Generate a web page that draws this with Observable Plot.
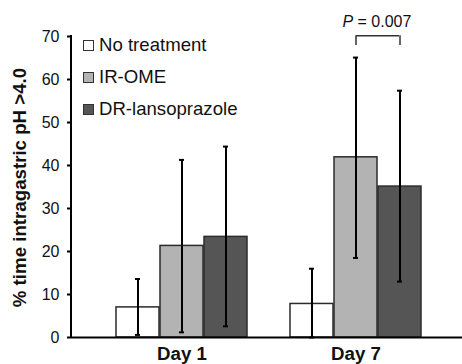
<!DOCTYPE html>
<html><head><meta charset="utf-8">
<script src="https://cdn.jsdelivr.net/npm/d3@7"></script>
<script src="https://cdn.jsdelivr.net/npm/@observablehq/plot@0.6"></script>
<style>
body{margin:0;background:#fff;font-family:"Liberation Sans",Arial,sans-serif;}
#wrap{position:relative;width:462px;height:364px;}
#legend{position:absolute;left:83px;top:29px;}
.row{display:flex;align-items:center;height:32px;font-size:18.6px;color:#111;}
.sw{width:9px;height:9px;border:1px solid #333;margin-right:5px;}
</style></head><body><div id="wrap"><div id="legend"></div></div>
<script>
const days = ["Day 1", "Day 7"];
const treatments = ["No treatment", "IR-OME", "DR-lansoprazole"];
// series values per treatment, indexed by day
const noTreatment = [7.0, 7.8];
const irOme = [21.3, 41.9];
const drLansoprazole = [23.4, 35.1];
// error bar bounds
const noTreatmentLow = [0.6, 0];
const noTreatmentHigh = [13.6, 16.0];
const irOmeLow = [1.2, 18.5];
const irOmeHigh = [41.3, 65.1];
const drLansoprazoleLow = [2.6, 13.0];
const drLansoprazoleHigh = [44.4, 57.4];
const yTicks = [0, 10, 20, 30, 40, 50, 60, 70];
const pText = "P = 0.007";

const colors = ["#ffffff", "#b3b3b3", "#555555"];
const means = [noTreatment, irOme, drLansoprazole];
const lows = [noTreatmentLow, irOmeLow, drLansoprazoleLow];
const highs = [noTreatmentHigh, irOmeHigh, drLansoprazoleHigh];

const rows = [];
treatments.forEach((t, ti) => days.forEach((d, di) => rows.push({
  day: d, treatment: t, mean: means[ti][di], lo: lows[ti][di], hi: highs[ti][di]
})));

const barW = 44, capHalf = 3;
const marks = [];
treatments.forEach((t, i) => {
  const d = rows.filter(r => r.treatment === t);
  marks.push(Plot.barY(d, {x: "day", y: "mean", fill: colors[i], stroke: "#2b2b2b", strokeWidth: 1.5,
    insetLeft: i * barW, insetRight: (2 - i) * barW}));
});
treatments.forEach((t, i) => {
  const d = rows.filter(r => r.treatment === t);
  marks.push(Plot.ruleX(d, {x: "day", y1: "lo", y2: "hi", dx: (i - 1) * barW, stroke: "#000", strokeWidth: 2}));
  for (const key of ["hi", "lo"]) {
    marks.push(Plot.tickY(d, {x: "day", y: key, stroke: "#000", strokeWidth: 2,
      insetLeft: i * barW + barW / 2 - capHalf, insetRight: (2 - i) * barW + barW / 2 - capHalf}));
  }
});
// significance bracket between IR-OME and DR-lansoprazole on Day 7
const sig = [{day: "Day 7"}];
marks.push(Plot.tickY(sig, {x: "day", y: () => 70.2, stroke: "#333", strokeWidth: 1.5, insetLeft: barW * 1.5, insetRight: barW / 2}));
marks.push(Plot.ruleX(sig, {x: "day", y1: () => 67.9, y2: () => 70.2, dx: 0, stroke: "#333", strokeWidth: 1.5}));
marks.push(Plot.ruleX(sig, {x: "day", y1: () => 67.9, y2: () => 70.2, dx: barW, stroke: "#333", strokeWidth: 1.5}));
marks.push(Plot.text(sig, {x: "day", y: () => 72.2, text: () => pText.split(" ")[0], fontStyle: "italic", textAnchor: "end", lineAnchor: "bottom", dx: -2.9, fontSize: 16, fill: "#111"}));
marks.push(Plot.text(sig, {x: "day", y: () => 72.2, text: () => pText.split(" ").slice(1).join(" "), textAnchor: "start", lineAnchor: "bottom", dx: 1.5, fontSize: 16, fill: "#111"}));

marks.push(Plot.ruleY([0], {stroke: "#000", strokeWidth: 2}));
marks.push(Plot.axisY(yTicks, {tickSize: 4, tickPadding: 8, fontSize: 16, label: null, stroke: "#000", strokeWidth: 2}));
marks.push(Plot.axisX({tickSize: 0, tickPadding: 9, fontSize: 18.7, fontWeight: "bold", label: null}));

const plot = Plot.plot({
  width: 462, height: 364,
  marginLeft: 71, marginRight: 0, marginTop: 36, marginBottom: 27,
  style: {fontFamily: '"Liberation Sans", Arial, sans-serif', color: "#111", background: "#fff"},
  x: {domain: days, paddingInner: 0.2457, paddingOuter: 0.24, align: 0.524, axis: null},
  y: {domain: [0, 70], axis: null},
  marks
});

const ys = plot.scale("y");
const svg = d3.select(plot);
svg.append("line").attr("x1", 71).attr("x2", 71)
  .attr("y1", ys.apply(0) + 1).attr("y2", ys.apply(70) - 1)
  .attr("stroke", "#000").attr("stroke-width", 2);
svg.append("text")
  .attr("transform", `translate(26,${(ys.apply(0) + ys.apply(70)) / 2 + 1}) rotate(-90)`)
  .attr("text-anchor", "middle").attr("font-weight", "bold").attr("font-size", 18.7)
  .attr("fill", "#111")
  .text("% time intragastric pH >4.0");

const wrap = document.getElementById("wrap");
wrap.insertBefore(plot, wrap.firstChild);
const legend = d3.select("#legend");
treatments.forEach((t, i) => {
  const row = legend.append("div").attr("class", "row");
  row.append("div").attr("class", "sw").style("background", colors[i]);
  row.append("span").text(t);
});
</script>
</body></html>
